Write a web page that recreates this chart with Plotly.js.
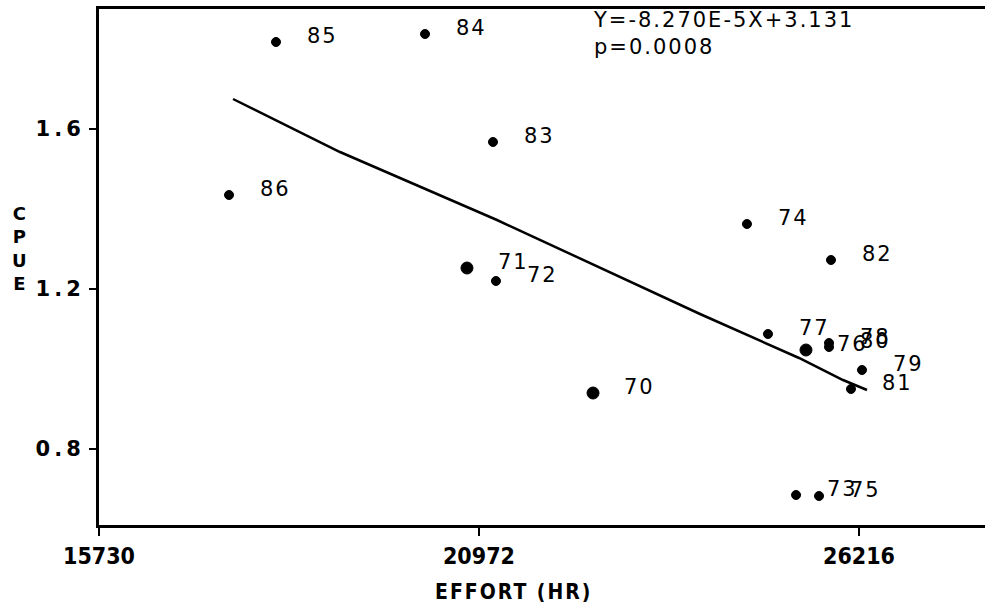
<!DOCTYPE html>
<html>
<head>
<meta charset="utf-8">
<script src="https://cdn.plot.ly/plotly-3.0.1.min.js"></script>
<style>
  html, body { margin: 0; padding: 0; background: #fff; }
  #chart { width: 989px; height: 608px; }
  .ytick text { letter-spacing: 4px; }
  .annotation-text { letter-spacing: 2px; }
</style>
</head>
<body>
<div id="chart"></div>
<script>
// Year labels (19xx)
const years  = ["70","71","72","73","74","75","76","77","78","79","80","81","82","83","84","85","86"];
// Effort (hours)
const effort = [22546, 20807, 21207, 25347, 24670, 25664, 25484, 24960, 25802, 26257, 25802, 26105, 25829, 21166, 20228, 18172, 17524];
// Catch per unit effort
const cpue   = [0.940, 1.2525, 1.220, 0.685, 1.3625, 0.6825, 1.0475, 1.0875, 1.065, 0.9975, 1.055, 0.950, 1.2725, 1.5675, 1.8375, 1.8175, 1.435];

// Fitted regression line as drawn
const fitX = [17579, 19055, 21221, 24022, 25388, 25995, 26326];
const fitY = [1.675, 1.5425, 1.3725, 1.1375, 1.0275, 0.9725, 0.9475];

// Axis ticks
const xTickVals = [15730, 20972, 26216];
const yTickVals = [0.8, 1.2, 1.6];
const yTickText = ["0.8", "1.2", "1.6"];

const equationText = "Y=-8.270E-5X+3.131<br>p=0.0008";
const xTitle = "EFFORT (HR)";
const yTitle = "C<br>P<br>U<br>E";

// style: bigger blobs where the print shows heavier dots
const bigDots = {"70": 1, "71": 1, "76": 1};
const markerSizes = years.map(y => bigDots[y] ? 12 : 9);

const labelFont = {family: "DejaVu Sans, Arial, sans-serif", size: 21, color: "#000"};

const annotations = years.map((yr, i) => ({
  x: effort[i], y: cpue[i], xref: "x", yref: "y",
  text: yr, showarrow: false,
  xanchor: "left", yanchor: "middle",
  xshift: 29, yshift: 6,
  font: labelFont
}));

annotations.push({
  xref: "paper", yref: "paper", x: 0.555, y: 1.005,
  xanchor: "left", yanchor: "top", align: "left",
  text: equationText, showarrow: false,
  font: {family: "DejaVu Sans, Arial, sans-serif", size: 21, color: "#000"}
});

annotations.push({
  xref: "paper", yref: "paper", x: -0.089, y: 0.535,
  xanchor: "center", yanchor: "middle", align: "center",
  text: yTitle, showarrow: false,
  font: {family: "DejaVu Sans, Arial, sans-serif", size: 18, color: "#000", weight: "bold"}
});

annotations.push({
  xref: "paper", yref: "paper", x: 0.468, y: -0.102,
  xanchor: "center", yanchor: "top",
  text: xTitle, showarrow: false,
  font: {family: "DejaVu Sans Condensed, DejaVu Sans, Arial, sans-serif", size: 21, color: "#000", weight: "bold"}
});

const traces = [
  {
    x: effort, y: cpue, type: "scatter", mode: "markers",
    marker: {color: "#000", size: markerSizes, opacity: 1, line: {color: "#000", width: 1}},
    hoverinfo: "skip", showlegend: false
  },
  {
    x: fitX, y: fitY, type: "scatter", mode: "lines",
    line: {color: "#000", width: 2.5},
    hoverinfo: "skip", showlegend: false
  }
];

const layout = {
  width: 989, height: 608,
  paper_bgcolor: "#fff", plot_bgcolor: "#fff",
  margin: {l: 99, r: 4, t: 9, b: 83},
  showlegend: false,
  xaxis: {
    range: [15730, 27954],
    tickvals: xTickVals,
    ticktext: xTickVals.map(String),
    ticks: "outside", ticklen: 8, tickwidth: 2, tickcolor: "#000",
    showline: true, linewidth: 3, linecolor: "#000", mirror: true,
    showgrid: false, zeroline: false,
    tickfont: {family: "DejaVu Sans Condensed, DejaVu Sans, Arial, sans-serif", size: 23, color: "#000", weight: "bold"}
  },
  yaxis: {
    range: [0.61, 1.9],
    tickvals: yTickVals,
    ticktext: yTickText,
    ticks: "outside", ticklen: 7, tickwidth: 2, tickcolor: "#000",
    showline: true, linewidth: 3, linecolor: "#000", mirror: false,
    showgrid: false, zeroline: false,
    tickfont: {family: "DejaVu Sans, Arial, sans-serif", size: 21, color: "#000", weight: "bold"}
  },
  annotations: annotations
};

Plotly.newPlot("chart", traces, layout, {displayModeBar: false, staticPlot: true});
</script>
</body>
</html>
